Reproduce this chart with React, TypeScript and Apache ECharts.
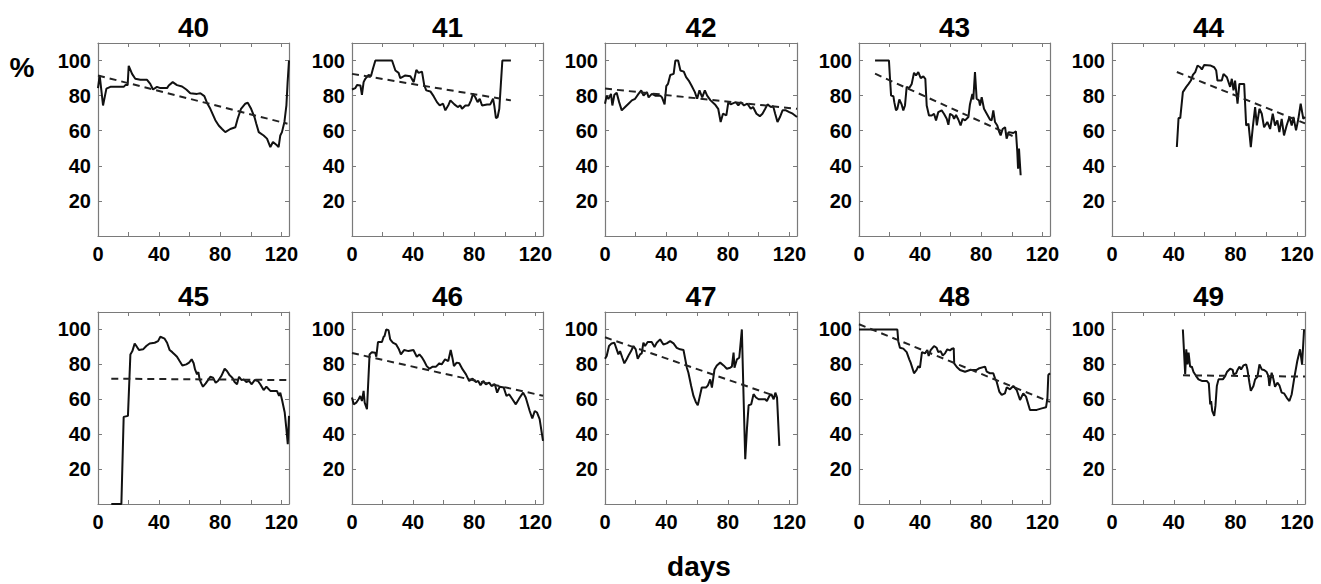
import React, { useEffect, useRef } from 'react';
import * as echarts from 'echarts';

const panelNames = ['40', '41', '42', '43', '44', '45', '46', '47', '48', '49'];
const yTicks = [20, 40, 60, 80, 100];
const xTickLabels = [0, 40, 80, 120];
const xLabel = 'days';
const yLabel = '%';

const p40 = [[0,84.3],[1.1,91.5],[3.3,74.4],[5.5,84],[8.1,85],[16.8,85],[17.9,86],[19.4,86],[20.1,97],[22.3,92.4],[24.4,89.6],[27.7,89],[32.1,89],[34.2,86.7],[36,83.5],[38.6,85],[40.8,84.3],[45.2,84.3],[46.3,85.8],[48.9,87.7],[51.7,86],[55,85.2],[57.8,83.5],[60.4,81.4],[64.8,81],[67,81.4],[69.6,79.7],[71.3,76],[73.5,72.5],[76.8,66],[79,63],[81.2,61],[83.3,59.2],[86.6,61],[89.9,62],[91.4,66.8],[93.6,72.5],[96.4,75.4],[98,76],[100.2,72.5],[102.4,67.8],[103.6,64],[105.2,59.2],[108.4,57.3],[110.6,55.5],[112.8,50.7],[114.5,53.6],[117.1,51.7],[118.2,50.7],[119.3,57.3],[120.4,59.2],[122,65],[123.3,74.4],[124.1,87.7],[125,100]];
const t40 = [[0,91.5],[124,64]];

const p41 = [[0,83.5],[2.2,84.3],[3.3,86],[5.5,85.8],[6.5,80.5],[7.6,87.7],[8.7,89.6],[10.9,91.8],[12.4,91],[13.7,95.3],[15.3,100],[26.2,100],[28.4,94.3],[30.5,93],[31.6,90],[34.9,91.5],[38.2,91],[40.4,87.7],[42.1,94.7],[43.6,93],[45.8,93.7],[47.3,85.8],[48.6,83],[51.3,82.4],[53.4,79.7],[55.6,76.3],[57.4,74.4],[59.6,75.4],[61.1,71.6],[63.3,75],[64.4,77.3],[67,75],[69.2,73.5],[70.9,74.4],[72,72.5],[74.2,74.4],[76.4,74.4],[77.9,77.3],[79.2,81],[80.7,79.1],[82.2,76.3],[83.6,78.2],[85.1,74.4],[88.4,75],[90.5,75],[92.3,78.2],[93.1,74.4],[94.2,67.2],[95.3,67.8],[96.4,72.5],[97.5,87.7],[98.4,100],[104,100]];
const t41 = [[0,92.4],[104,77.3]];

const p42 = [[0,75.4],[1.1,80],[2.2,78],[3.9,81],[4.8,74.4],[6.1,80.5],[7.6,81.6],[9.2,76.3],[10.9,71.6],[13.1,73.5],[15.3,75.4],[17.5,77.3],[19.6,78.2],[21.8,81],[23.6,83],[25.1,80],[27.3,82],[28.4,79],[30.5,81],[32.7,80],[36,80],[37.1,79],[38.8,75],[39.9,85.4],[41,86.7],[42.5,91.8],[44.7,92.4],[45.8,100],[47.6,100],[49.1,94.3],[51.3,93.7],[52.8,90.5],[54.5,88.6],[56.3,85.8],[58.5,82],[60,78.2],[61.5,83],[63.3,79],[65,83],[66.5,80],[68.7,77.3],[71.6,75],[73.7,72.5],[75.3,65],[76.8,69.7],[79,68.7],[80.3,76.3],[81.8,75],[85.1,76.3],[86.8,74.4],[88.4,76.3],[90.5,74.4],[92.7,75.4],[94.9,72.5],[96.4,73.5],[98.6,69.7],[100.8,68.3],[102.5,69.7],[104.3,72.5],[105.8,75],[108,73.5],[109.5,74],[110.8,69.7],[112.3,65],[113.9,67.8],[115.6,71.6],[117.8,71.6],[120,70.6],[122.2,69.7],[125,67.8]];
const t42 = [[0,84],[125,72.5]];

const p43 = [[10.5,100],[19.6,100],[20.3,89.6],[21,80],[22.5,79.7],[23.1,76.3],[24.2,71.6],[25.1,72.5],[26.4,77.8],[27.9,75],[29,71.6],[30.1,74.4],[31.2,85],[32.9,84.3],[34.5,86.7],[36,93],[37.3,91.5],[38.8,93.4],[40.4,90],[42.1,91],[43.4,89.6],[44.3,74.4],[45.8,68.7],[47.6,68.7],[49.1,69.7],[50.4,65.9],[51.9,70.6],[54.1,71.6],[55.6,69.7],[57.4,66.8],[58.5,63.4],[59.6,69.7],[61.3,68.7],[62.2,66.8],[63.5,69],[65,66.4],[66.5,63],[67.8,66.8],[69.4,65.9],[71.6,67.8],[72.6,75],[74.2,81],[74.8,77.8],[75.9,93.4],[77,78.2],[78.5,77.3],[79.2,74.4],[80.3,79.1],[81.8,72.5],[83.6,69.7],[85.7,66.4],[86.8,65.9],[87.9,71.6],[89,65],[90.5,63],[91.8,59.2],[92.7,57.3],[94,61],[95.6,62],[96.6,55.5],[98,59.2],[101,58.7],[102.7,59.6],[103.6,47.9],[104.1,38.4],[104.7,49.8],[105.8,34.6]];
const t43 = [[10.5,92.5],[103,56]];

const p44 = [[42,50.7],[43.1,67.2],[44.2,67.2],[45.9,82],[48.1,85],[49.6,86.7],[51.1,88.6],[52.4,91.8],[53.9,93.4],[55.4,97.2],[57.1,96.2],[58.2,94.9],[59.7,97.5],[63.6,97.2],[66.2,96.2],[67.5,94.3],[68.3,88.6],[71.1,88.6],[72.2,92.4],[74.4,90.5],[76.5,85],[77.6,89.6],[78.7,83],[79.7,88.6],[81.3,75.4],[82.5,86.7],[85.6,86.7],[86.9,63],[88.4,64],[89.9,50.7],[91.2,62],[92.7,73.5],[93.8,63],[95.5,72.5],[97,69.7],[98.5,62],[100.6,65],[102.4,61],[104.1,69.7],[105.6,63],[107.1,65.9],[108.4,59.2],[109.9,66.8],[111.4,57.3],[113.1,63],[114.9,67.8],[116.4,63],[117.5,67.8],[119.2,60.2],[120.7,66.8],[122.2,75.4],[123.9,66.8],[125,67.8]];
const t44 = [[42,93.5],[125,64.2]];

const p45 = [[8.7,0],[15.3,0],[16.8,49.9],[19.6,50.5],[21.2,85.7],[22.5,87.6],[24,92],[25.1,90.5],[26.8,88.2],[29.5,88.6],[31.6,90.5],[33.8,92],[37.1,92.4],[39.3,93.3],[40.8,95.8],[43.6,94.7],[45.2,92.4],[46.9,88.2],[48.6,87],[50.2,85.7],[51.7,84.4],[53.4,81.9],[55.2,79.4],[57.8,80],[59.6,81],[61.3,82.9],[62.6,80.6],[63.5,77.1],[64.8,74.3],[65.7,75.6],[66.5,71.4],[67.6,69.1],[68.7,67.2],[70.5,69.1],[72,71],[73.5,72.9],[75.3,72.4],[77,69.5],[78.5,70.5],[80.7,73.3],[82.9,77.5],[84.4,76.2],[86.2,73.7],[87.9,72.4],[89.4,69.9],[91,68.6],[92.3,72.9],[94,71],[95.3,71.4],[97.1,69.9],[98.8,70.5],[100.6,68.6],[102.5,71],[104.7,70.5],[106.2,68.6],[108.4,65.3],[110.2,67.2],[112.8,64.8],[117.1,64.8],[118.5,61.9],[119.3,63.8],[120.6,59],[122.2,52.4],[123.3,42.9],[124.2,34.3],[125,50.5]];
const t45 = [[8.7,71.8],[125,71]];

const p46 = [[0,61],[1.1,57.1],[2.8,58.1],[4.3,60],[5.4,61.9],[6.5,59],[7.6,64.8],[8.3,58.1],[9.8,54.3],[11.5,85.7],[13,87],[15.2,86.7],[15.9,84.4],[17,92.8],[19.6,92.8],[20.7,95.8],[21.3,96.2],[22.4,100],[23.9,99.6],[25,94.3],[26.7,92.4],[28.9,91.4],[30.7,88.6],[32,85.7],[34.1,88.2],[37,87.6],[40.2,88.2],[42.4,84.4],[44.1,85.7],[45.9,83.8],[47.2,81.9],[48.9,79],[50.7,77.5],[52.8,78.7],[55,78.7],[57.2,80.6],[58.7,80],[60.9,82.9],[63,81.9],[64.6,88.2],[65.9,82.9],[66.7,79],[68.5,81],[70.2,80.6],[72.4,77.1],[74.6,74.3],[76.7,70.5],[78.9,71.8],[81.1,69.9],[82.6,70.5],[84.1,68],[85.9,70.5],[87.6,68.6],[89.8,69.5],[91.3,67.6],[93.5,68.6],[95,63.8],[96.7,67.2],[99.3,66.7],[101.1,61.9],[102.8,62.9],[105,60],[107.2,57.1],[109.8,61],[112,63.8],[113.7,61],[116.3,53.3],[118,49],[119.6,53.3],[121.1,52.4],[122.8,48.6],[125,36.2]];
const t46 = [[0,86.5],[125,62]];

const p47 = [[0,83.2],[1.1,84.8],[2.6,90.5],[4.3,92],[6.1,92.4],[7.6,88.6],[8.7,85.7],[9.8,87.6],[11.3,83.8],[12.6,80.6],[14.1,82.9],[15.7,85.7],[17,87.6],[18.5,90.5],[20,88.6],[21.3,83.2],[22.8,85.7],[23.9,86.3],[25,92.4],[26.1,90.5],[27.8,92.8],[30.4,92.8],[32.2,90],[33.7,92.4],[35.9,94.3],[38,91.4],[40.2,92],[42.4,93.3],[44.6,92],[46.7,89.5],[48.9,88.6],[51.1,88.2],[53.3,78.1],[54.3,75.2],[56.1,67.6],[57.6,61.9],[59.1,58.5],[60.4,56.6],[61.3,60],[63,66.7],[65.7,66.7],[67,68],[68.5,71.4],[69.6,66.7],[71.3,77.1],[72.8,79.4],[75,81],[77.2,79.4],[79.3,77.5],[81.5,78.1],[82.6,78.7],[83.7,86.7],[84.3,78.1],[85.9,82.9],[87.4,83.8],[89.1,100],[90.2,61.9],[91.3,25.7],[92.4,42.9],[93.5,56.6],[95.2,57.1],[96.7,62.9],[98.3,61],[100,60],[104.3,60],[105.4,59],[107,61.9],[108.3,62.9],[109.8,60],[110.9,63.8],[112,61],[113.5,33.3]];
const t47 = [[0,95.5],[112,61.5]];

const p48 = [[0,100],[25.1,100],[25.7,93.3],[26.8,89.5],[29,89],[31.2,87],[32.9,82.9],[33.8,81],[36,74.9],[37.7,76.8],[38.8,79],[39.9,78.1],[41.2,87],[43.2,86.3],[44.7,88.2],[45.6,84.8],[46.9,88.2],[49.1,90.5],[50.8,89.5],[51.9,87],[53.4,87.6],[54.8,85.1],[56.3,86.3],[57.8,88.6],[59.5,88],[61,89],[62,89.2],[62.3,80.6],[64,78.5],[66.1,76.8],[69.4,75.8],[72.6,76.8],[77,76.8],[78.8,77.8],[82.5,78.7],[83.6,75.8],[85.7,74.9],[87.9,74.9],[89,72],[90.1,70.1],[91.8,64.4],[93.4,62.5],[95.5,63.4],[96.7,66.9],[98.8,65.7],[101,67.6],[103.2,65.3],[105.4,59.6],[107.5,63.4],[109.3,61.5],[111.9,53.9],[116.3,53.9],[119.6,54.8],[122.4,55.4],[123.3,60.6],[123.9,73.9],[125,74.9]];
const t48 = [[0,103],[125,58.5]];

const p49 = [[45.9,100],[47.4,74.3],[48.1,88.6],[48.9,80],[49.6,86.7],[50.6,78.7],[51.7,78.7],[52.8,75.6],[54.5,73.3],[56,71.4],[58.2,70.5],[61.4,70.5],[62.7,69.1],[63.6,57.1],[64.2,59],[64.9,53.3],[66.2,50.5],[67,56.2],[67.9,67.6],[69,71.4],[71.8,71.4],[73.3,73.3],[74.4,75.6],[76.5,77.5],[78.2,76.8],[78.7,74.3],[80.4,74.9],[81.3,76.8],[82.5,78.7],[83.6,77.1],[85.1,79.4],[86.9,80],[87.7,77.1],[89,69.5],[89.9,64.8],[91.6,67.6],[92.7,71.4],[94.2,72.9],[95.5,80],[97,77.1],[98.5,76.8],[100.2,75.6],[101.3,73.3],[101.9,67.6],[103.4,75.2],[104.5,71.8],[105.6,67.2],[107.1,69.5],[108.4,68],[109.9,63.8],[111.4,63.4],[113.1,61],[114.9,59],[116.4,62.9],[117.9,71.4],[120,81.9],[121.8,88.6],[123.1,80],[124.4,100]];
const t49 = [[46,73.7],[125,73]];

const profiles = [p40, p41, p42, p43, p44, p45, p46, p47, p48, p49];
const trends = [t40, t41, t42, t43, t44, t45, t46, t47, t48, t49];

const X_MAX = 125;
const Y_MAX = 110;

export default function App() {
  const ref = useRef<HTMLDivElement>(null);
  useEffect(() => {
    const chart = echarts.init(ref.current!, null, { renderer: 'svg' });
    const lefts = [98, 352, 605, 859, 1112];
    const widths = [191, 191, 192, 191, 193];
    const tops = [43, 312];
    const heights = [193, 192];
    const axisColor = '#7a7a7a';
    const font = 'Liberation Sans, Arial, sans-serif';
    const grids: any[] = [];
    const xAxes: any[] = [];
    const yAxes: any[] = [];
    const series: any[] = [];
    const graphics: any[] = [];
    const labelStyle = { color: '#000', fontFamily: font, fontWeight: 'bold', fontSize: 20 };
    panelNames.forEach((name, i) => {
      const r = Math.floor(i / 5);
      const c = i % 5;
      grids.push({ left: lefts[c], top: tops[r], width: widths[c], height: heights[r], show: false });
      const common = {
        gridIndex: i,
        type: 'value',
        splitLine: { show: false },
        axisLine: { show: true, onZero: false, lineStyle: { color: axisColor, width: 1.2 } },
        axisTick: { show: true, inside: true, length: 4, lineStyle: { color: axisColor } },
      };
      const xBase = { ...common, min: 0, max: X_MAX, interval: 20 };
      xAxes.push({
        ...xBase,
        position: 'bottom',
        axisLabel: {
          ...labelStyle,
          margin: 8,
          showMaxLabel: false,
          formatter: (v: number) => (xTickLabels.includes(v) ? String(v) : ''),
        },
      });
      xAxes.push({ ...xBase, position: 'top', axisLabel: { show: false } });
      const yBase = { ...common, min: 0, max: Y_MAX, interval: 20 };
      yAxes.push({
        ...yBase,
        position: 'left',
        axisLabel: {
          ...labelStyle,
          margin: 7,
          formatter: (v: number) => (yTicks.includes(v) ? String(v) : ''),
        },
      });
      yAxes.push({ ...yBase, position: 'right', axisLabel: { show: false } });
      series.push({
        type: 'line',
        xAxisIndex: 2 * i,
        yAxisIndex: 2 * i,
        data: profiles[i],
        showSymbol: false,
        lineStyle: { color: '#111', width: 2 },
      });
      series.push({
        type: 'line',
        xAxisIndex: 2 * i,
        yAxisIndex: 2 * i,
        data: trends[i],
        showSymbol: false,
        lineStyle: { color: '#222', width: 2, type: [7, 5] },
      });
      graphics.push({
        type: 'text',
        x: lefts[c] + widths[c] / 2,
        y: tops[r] - 16,
        style: {
          text: name,
          fill: '#000',
          font: `bold 28px ${font}`,
          textAlign: 'center',
          textVerticalAlign: 'middle',
        },
      });
    });
    graphics.push({
      type: 'text',
      x: 22,
      y: 67,
      style: { text: yLabel, fill: '#000', font: `bold 28px ${font}`, textAlign: 'center', textVerticalAlign: 'middle' },
    });
    graphics.push({
      type: 'text',
      x: 699,
      y: 566,
      style: { text: xLabel, fill: '#000', font: `bold 28px ${font}`, textAlign: 'center', textVerticalAlign: 'middle' },
    });
    chart.setOption({
      animation: false,
      backgroundColor: '#fff',
      grid: grids,
      xAxis: xAxes,
      yAxis: yAxes,
      series,
      graphic: graphics,
    });
    return () => chart.dispose();
  }, []);
  return (
    <div
      ref={ref}
      style={{ position: 'absolute', left: 0, top: 0, width: 1321, height: 584, background: '#fff' }}
    />
  );
}
